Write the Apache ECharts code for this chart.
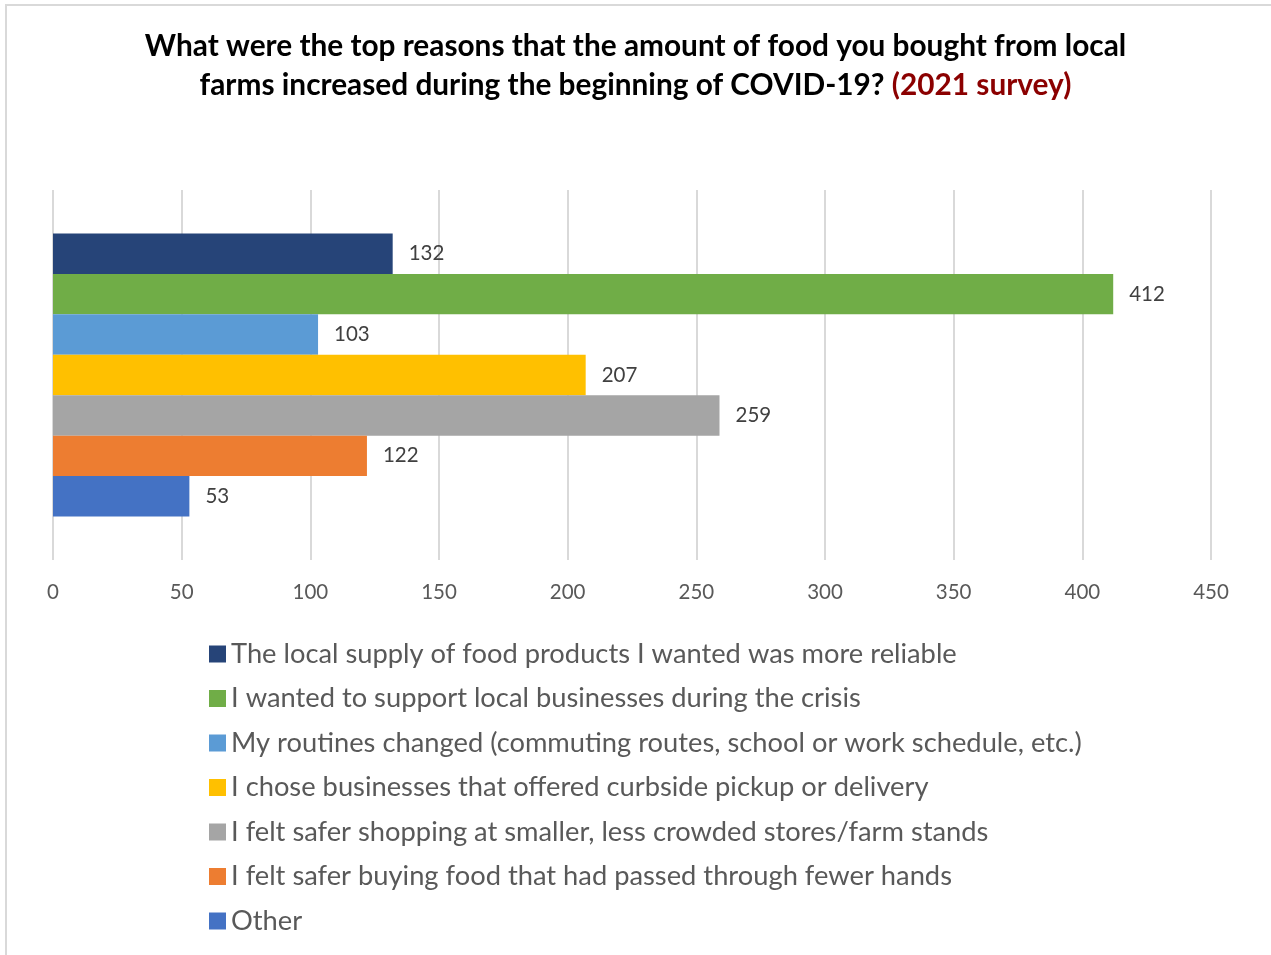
<!DOCTYPE html>
<html>
<head>
<meta charset="utf-8">
<script src="https://cdn.jsdelivr.net/npm/echarts@6/dist/echarts.min.js"></script>
<style>
html,body{margin:0;padding:0;background:#fff;}
#chart{width:1271px;height:955px;}
</style>
</head>
<body>
<div id="chart"></div>
<script>
const reasons = [
  'The local supply of food products I wanted was more reliable',
  'I wanted to support local businesses during the crisis',
  'My routines changed (commuting routes, school or work schedule, etc.)',
  'I chose businesses that offered curbside pickup or delivery',
  'I felt safer shopping at smaller, less crowded stores/farm stands',
  'I felt safer buying food that had passed through fewer hands',
  'Other'
];
const counts = [132, 412, 103, 207, 259, 122, 53];
const colors = ['#264478', '#70AD47', '#5B9BD5', '#FFC000', '#A5A5A5', '#ED7D31', '#4472C4'];
const titleLine1 = 'What were the top reasons that the amount of food you bought from local';
const titleLine2 = 'farms increased during the beginning of COVID-19? ';
const titleNote = '(2021 survey)';

const FONT = 'Lato';
const chart = echarts.init(document.getElementById('chart'));
const series = reasons.map((name, i) => ({
  name: name,
  type: 'bar',
  data: [counts[i]],
  itemStyle: { color: colors[i] },
  barGap: '0%',
  barCategoryGap: '23.5%',
  label: {
    show: true,
    position: 'right',
    distance: 16,
    fontFamily: FONT,
    fontSize: 20.5,
    color: '#404040'
  },
  emphasis: { disabled: true }
}));

chart.setOption({
  animation: false,
  backgroundColor: '#fff',
  graphic: [{
    type: 'rect',
    shape: { x: 6, y: 5, width: 1300, height: 1000 },
    style: { fill: 'none', stroke: '#d9d9d9', lineWidth: 2 },
    silent: true,
    z: -10
  }],
  title: {
    left: 'center',
    top: 22,
    text: '{b|' + titleLine1 + '}\n{b|' + titleLine2 + '}{r|' + titleNote + '}',
    textStyle: {
      rich: {
        b: { fontFamily: FONT, fontWeight: 'bold', fontSize: 29.8, color: '#000', lineHeight: 39 },
        r: { fontFamily: FONT, fontWeight: 'bold', fontSize: 29.8, color: '#8B0000', lineHeight: 39 }
      }
    }
  },
  legend: {
    orient: 'vertical',
    left: 204,
    top: 634,
    itemWidth: 17,
    itemHeight: 17,
    itemGap: 14.5,
    icon: 'rect',
    selectedMode: false,
    data: reasons,
    textStyle: { fontFamily: FONT, fontSize: 27.3, color: '#595959', lineHeight: 30 }
  },
  grid: { left: 53, right: 60, top: 190, bottom: 395, containLabel: false },
  xAxis: {
    type: 'value',
    min: 0,
    max: 450,
    interval: 50,
    axisLine: { show: false },
    axisTick: { show: false },
    splitLine: { show: true, lineStyle: { color: '#d9d9d9', width: 2 } },
    axisLabel: { fontFamily: FONT, fontSize: 20.5, color: '#595959', margin: 22 }
  },
  yAxis: {
    type: 'category',
    inverse: true,
    data: [''],
    axisLine: { show: false },
    axisTick: { show: false },
    axisLabel: { show: false }
  },
  series: series
});
</script>
</body>
</html>
